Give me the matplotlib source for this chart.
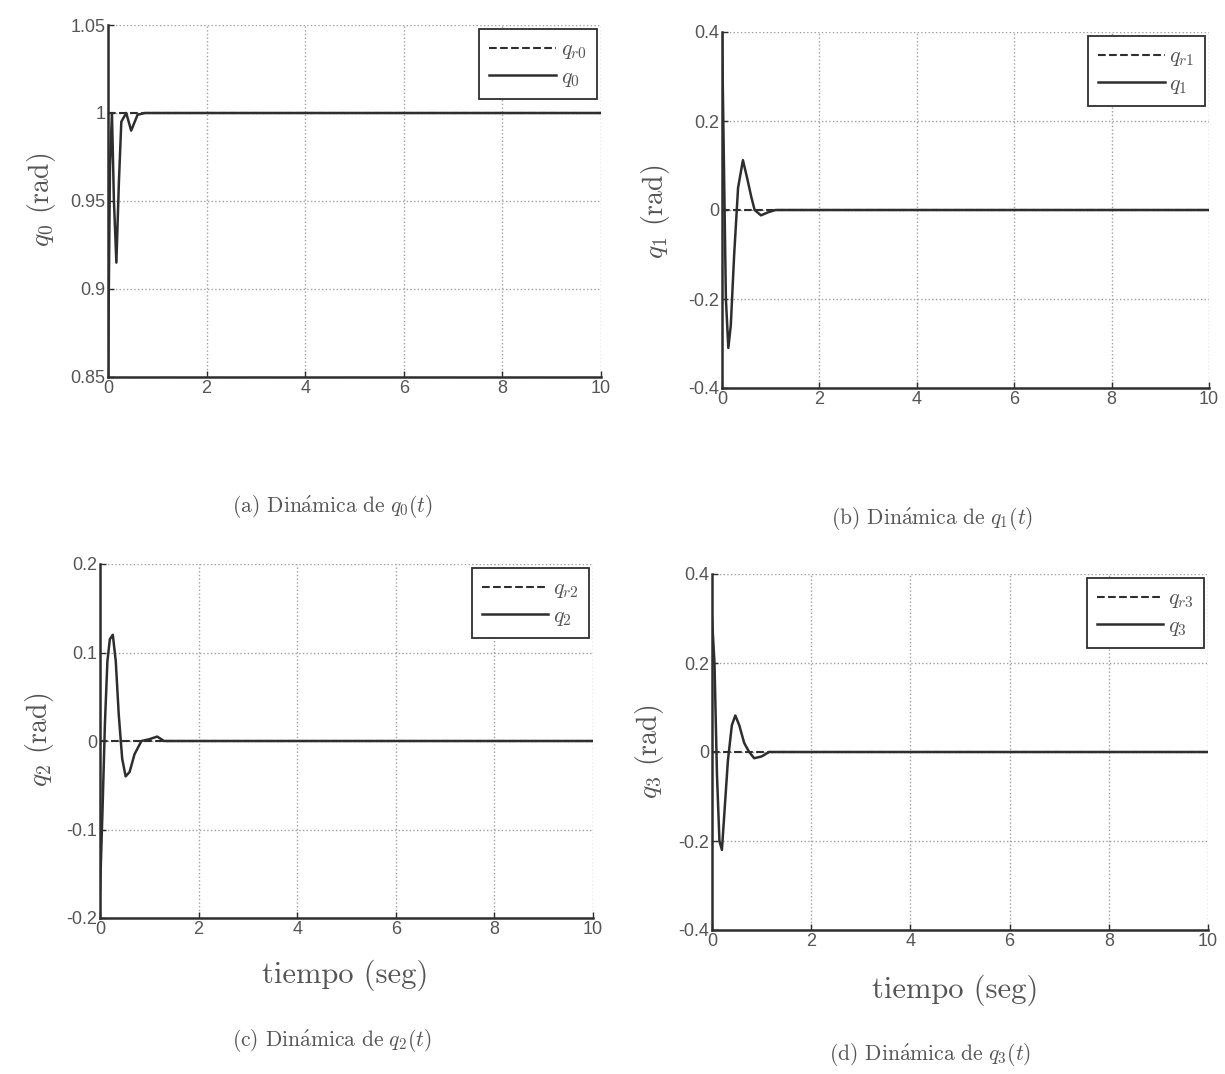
import matplotlib
matplotlib.use("Agg")
import matplotlib.pyplot as plt

plt.rcParams['mathtext.fontset'] = 'cm'
plt.rcParams['axes.unicode_minus'] = False

# respuesta temporal de cada articulacion (t en seg, q en rad)
t0 = [0, 0.04, 0.08, 0.12, 0.17, 0.22, 0.27, 0.37, 0.47, 0.6, 0.75, 10]
q0 = [0.85, 0.97, 1.0, 0.95, 0.915, 0.96, 0.995, 1.0, 0.99, 0.999, 1.0, 1.0]

t1 = [0, 0.04, 0.08, 0.13, 0.18, 0.25, 0.33, 0.43, 0.52, 0.6, 0.67, 0.8, 0.95, 1.1, 10]
q1 = [0.4, 0.1, -0.2, -0.31, -0.26, -0.1, 0.05, 0.112, 0.07, 0.03, 0.0, -0.012, -0.005, 0.0, 0.0]

t2 = [0, 0.05, 0.1, 0.15, 0.2, 0.26, 0.32, 0.38, 0.45, 0.52, 0.6, 0.7, 0.84, 1.0, 1.16, 1.3, 1.45, 10]
q2 = [-0.17, -0.08, 0.02, 0.09, 0.115, 0.12, 0.09, 0.03, -0.02, -0.04, -0.035, -0.015, 0.0, 0.002, 0.005, 0.0, 0.0, 0.0]

t3 = [0, 0.05, 0.1, 0.15, 0.2, 0.26, 0.32, 0.4, 0.47, 0.55, 0.65, 0.75, 0.85, 1.0, 1.15, 10]
q3 = [0.3, 0.2, -0.05, -0.2, -0.22, -0.12, -0.02, 0.06, 0.082, 0.06, 0.02, 0.0, -0.014, -0.01, 0.0, 0.0]

# referencias constantes
tr = [0, 10]
qr = [1.0, 0.0, 0.0, 0.0]

ylims = [(0.85, 1.05), (-0.4, 0.4), (-0.2, 0.2), (-0.4, 0.4)]
yticks = [[0.85, 0.9, 0.95, 1, 1.05], [-0.4, -0.2, 0, 0.2, 0.4],
          [-0.2, -0.1, 0, 0.1, 0.2], [-0.4, -0.2, 0, 0.2, 0.4]]
yticklabels = [['0.85', '0.9', '0.95', '1', '1.05'], ['-0.4', '-0.2', '0', '0.2', '0.4'],
               ['-0.2', '-0.1', '0', '0.1', '0.2'], ['-0.4', '-0.2', '0', '0.2', '0.4']]
xticks = [0, 2, 4, 6, 8, 10]
letras = ['a', 'b', 'c', 'd']

W, H = 1225, 1074
fig = plt.figure(figsize=(W / 100, H / 100), dpi=100)
fig.patch.set_facecolor('white')

# cajas de los ejes en pixeles: izq, der, arriba, abajo
cajas = [(108, 601, 25, 377), (722, 1209, 32, 388), (100, 593, 564, 918), (712, 1208, 574, 930)]
ylab_pos = [(42, 200), (655, 212), (40, 740), (650, 752)]
cap_pos = [(332, 507), (932, 518), (332, 1040), (930, 1055)]
xlab_pos = [None, None, (345, 975), (955, 990)]

series = [(t0, q0), (t1, q1), (t2, q2), (t3, q3)]
ink = '#2e2e2e'

for i in range(4):
    l, r, tp, b = cajas[i]
    ax = fig.add_axes([l / W, 1 - b / H, (r - l) / W, (b - tp) / H])
    t, q = series[i]
    ax.plot(tr, [qr[i], qr[i]], '--', color=ink, lw=1.5, label=r'$q_{r%d}$' % i)
    ax.plot(t, q, '-', color=ink, lw=1.8, label=r'$q_{%d}$' % i)
    ax.set_xlim(0, 10)
    ax.set_ylim(*ylims[i])
    ax.set_xticks(xticks)
    ax.set_xticklabels([str(v) for v in xticks])
    ax.set_yticks(yticks[i])
    ax.set_yticklabels(yticklabels[i])
    ax.grid(True, linestyle=':', color='#a0a0a0', lw=1.0)
    for s in ['top', 'right']:
        ax.spines[s].set_visible(False)
    for s in ['left', 'bottom']:
        ax.spines[s].set_linewidth(1.8)
        ax.spines[s].set_color(ink)
    ax.tick_params(direction='in', length=4, width=1, colors=ink, labelsize=13, pad=2)
    for lab in ax.get_xticklabels() + ax.get_yticklabels():
        lab.set_family('Liberation Sans')
        lab.set_color('#555555')
    leg = ax.legend(loc='upper right', fontsize=16, handlelength=3.0, fancybox=False,
                    framealpha=1, edgecolor=ink, borderaxespad=0.2, labelspacing=0.25,
                    handletextpad=0.2, borderpad=0.45)
    leg.get_frame().set_linewidth(1.3)
    for txt in leg.get_texts():
        txt.set_color('#555555')

    x, y = ylab_pos[i]
    fig.text(x / W, 1 - y / H, r'$q_%d$ (rad)' % i, rotation=90, ha='center', va='center',
             fontsize=20, family='cmr10', color='#555555')
    x, y = cap_pos[i]
    fig.text(x / W, 1 - y / H, r'(%s) $\mathrm{Din\acute{a}mica\ de}\ q_%d(t)$' % (letras[i], i),
             ha='center', va='center', fontsize=15.5, family='cmr10', color='#555555')
    if xlab_pos[i] is not None:
        x, y = xlab_pos[i]
        fig.text(x / W, 1 - y / H, 'tiempo (seg)', ha='center', va='center',
                 fontsize=22, family='cmr10', color='#555555')

fig.savefig('out.png', dpi=100, facecolor='white')
